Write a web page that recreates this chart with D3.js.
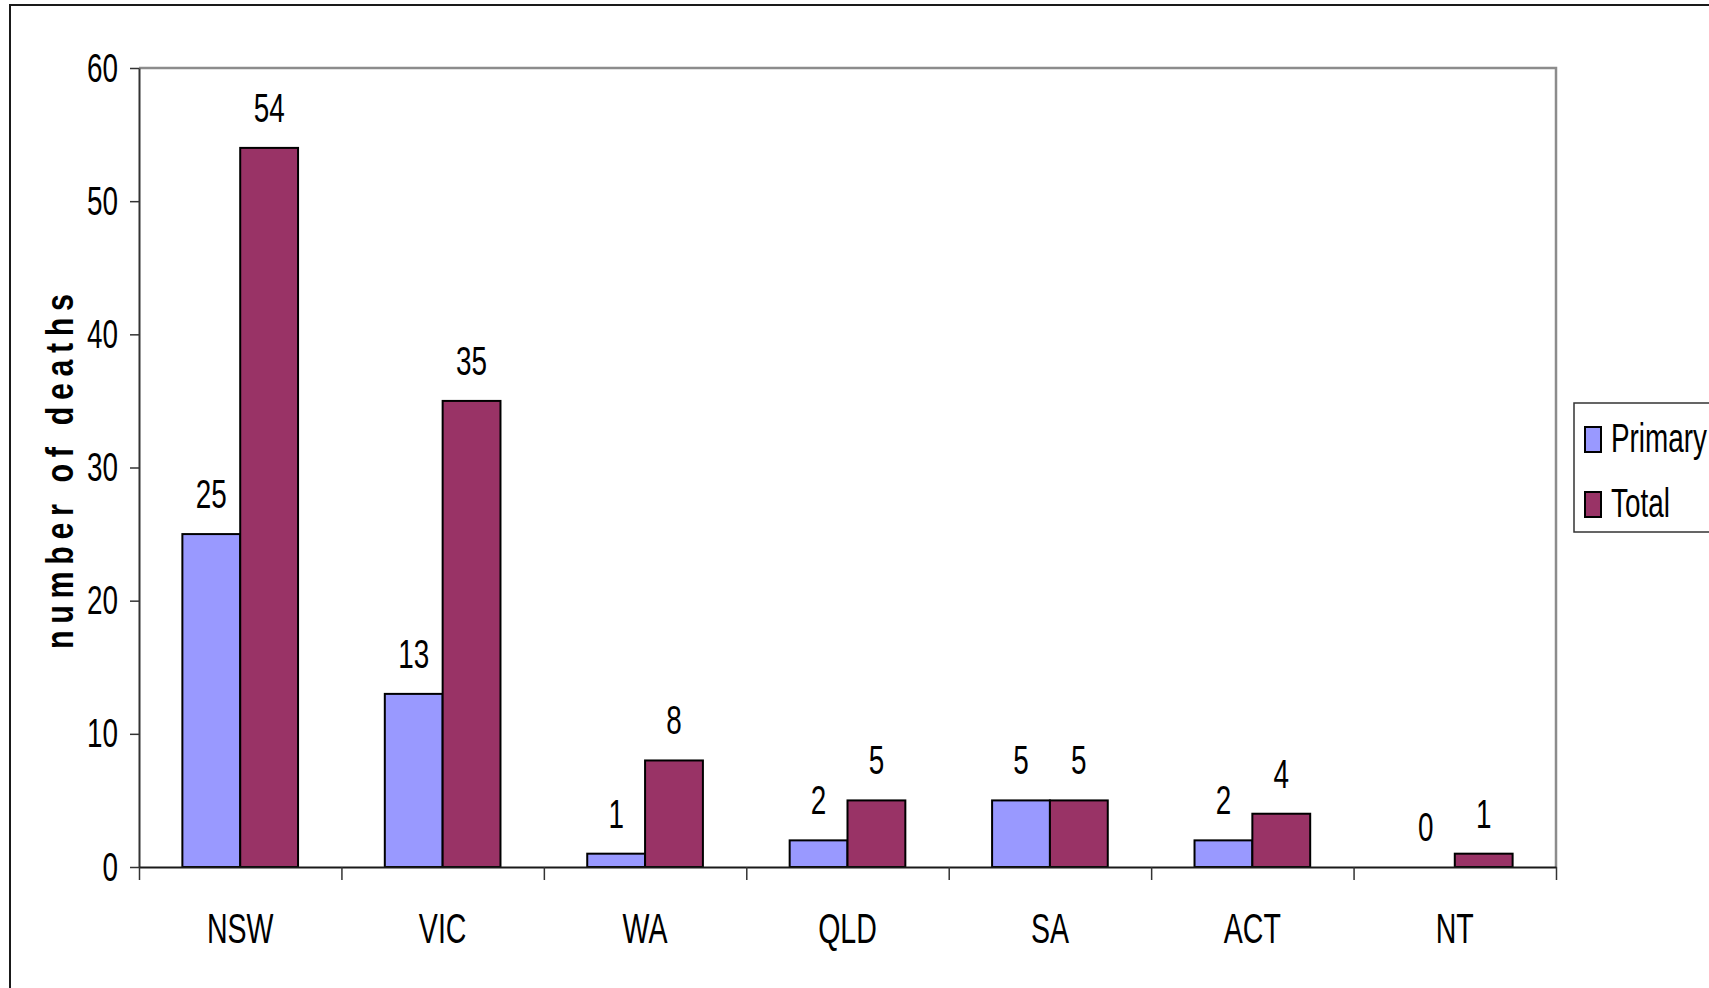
<!DOCTYPE html>
<html>
<head>
<meta charset="utf-8">
<script src="https://cdn.jsdelivr.net/npm/d3@7"></script>
<style>
  body { margin: 0; background: #fff; }
  svg { display: block; }
  text { font-family: "Liberation Sans", Arial, sans-serif; fill: #000; }
</style>
</head>
<body>
<script>
// data
const states = ["NSW", "VIC", "WA", "QLD", "SA", "ACT", "NT"]
const primary = [25, 13, 1, 2, 5, 2, 0]
const total = [54, 35, 8, 5, 5, 4, 1]
const seriesNames = ["Primary", "Total"]
const seriesColors = ["#9999FF", "#993366"]
const yTicks = [0, 10, 20, 30, 40, 50, 60]

const W = 1709, H = 988
const plot = {left: 139, right: 1556, top: 68, bottom: 867}
const sx = 0.68   // the original uses a narrow face, so squeeze sideways
const fontSize = 41

const svg = d3.select("body").append("svg")
  .attr("width", W)
  .attr("height", H)

// outer chart frame (right and bottom run off the page)
svg.append("rect")
  .attr("x", 10).attr("y", 5)
  .attr("width", 1720).attr("height", 1010)
  .attr("fill", "none")
  .attr("stroke", "#1a1a1a")
  .attr("stroke-width", 2)

const y = d3.scaleLinear()
  .domain([0, 60])
  .range([plot.bottom, plot.top])

const x = d3.scaleBand()
  .domain(states)
  .range([plot.left, plot.right])
  .padding(0)

const xInner = d3.scaleBand()
  .domain(seriesNames)
  .range([0, x.bandwidth()])
  .paddingInner(0)
  .paddingOuter(0.75)

// plot area border: gray on top and right
svg.append("path")
  .attr("d", `M${plot.left},${plot.top}H${plot.right}V${plot.bottom}`)
  .attr("fill", "none")
  .attr("stroke", "#8c8c8c")
  .attr("stroke-width", 2.5)

// bars
const rows = states.map((s, i) => ({state: s, values: [primary[i], total[i]]}))

const groups = svg.append("g").selectAll("g")
  .data(rows)
  .join("g")
  .attr("transform", d => `translate(${x(d.state)},0)`)

groups.selectAll("rect")
  .data(d => d.values.map((v, j) => ({name: seriesNames[j], value: v, color: seriesColors[j]})).filter(e => e.value > 0))
  .join("rect")
  .attr("x", d => xInner(d.name))
  .attr("y", d => y(d.value))
  .attr("width", xInner.bandwidth())
  .attr("height", d => y(0) - y(d.value))
  .attr("fill", d => d.color)
  .attr("stroke", "#000")
  .attr("stroke-width", 2)

// value labels
groups.selectAll("text")
  .data(d => d.values.map((v, j) => ({name: seriesNames[j], value: v})))
  .join("text")
  .attr("text-anchor", "middle")
  .attr("transform", d => `translate(${xInner(d.name) + xInner.bandwidth() / 2},${y(d.value) - 26}) scale(${sx},1)`)
  .style("font-size", fontSize + "px")
  .text(d => d.value)

// y axis
const yAxis = svg.append("g")
  .attr("transform", `translate(${plot.left},0)`)
  .call(d3.axisLeft(y).tickValues(yTicks).tickSize(9).tickSizeOuter(0))
yAxis.select(".domain").attr("stroke", "#333").attr("stroke-width", 2)
yAxis.selectAll(".tick line").attr("stroke", "#333").attr("stroke-width", 1.5)
yAxis.selectAll(".tick text")
  .attr("x", -21 / sx)
  .attr("transform", `scale(${sx},1)`)
  .style("font-size", fontSize + "px")
  .attr("fill", "#000")

// x axis: ticks at category edges, labels at centres
const edges = d3.scaleLinear().domain([0, states.length]).range([plot.left, plot.right])
const xEdge = svg.append("g")
  .attr("transform", `translate(0,${plot.bottom})`)
  .call(d3.axisBottom(edges).tickValues(d3.range(states.length + 1)).tickSize(13).tickSizeOuter(0).tickFormat(""))
xEdge.select(".domain").attr("stroke", "#1a1a1a").attr("stroke-width", 2)
xEdge.selectAll(".tick line").attr("stroke", "#333").attr("stroke-width", 1.5)

const xLab = svg.append("g")
  .attr("transform", `translate(0,${plot.bottom})`)
  .call(d3.axisBottom(x).tickSize(0))
xLab.select(".domain").remove()
xLab.selectAll(".tick text")
  .attr("y", 0).attr("dy", 0)
  .attr("transform", `translate(0,76) scale(${sx},1)`)
  .style("font-size", (fontSize + 1) + "px")
  .attr("fill", "#000")

// y axis title
const titleSx = 0.8
svg.append("text")
  .attr("transform", `translate(73,649) rotate(-90) scale(${titleSx},1)`)
  .attr("text-anchor", "start")
  .attr("textLength", 355 / titleSx)
  .attr("lengthAdjust", "spacing")
  .style("font-size", "38px")
  .style("font-weight", "bold")
  .text("number of deaths")

// legend
const legend = svg.append("g")
legend.append("rect")
  .attr("x", 1574).attr("y", 403)
  .attr("width", 200).attr("height", 129)
  .attr("fill", "#fff")
  .attr("stroke", "#333")
  .attr("stroke-width", 1.5)

const legendY = d3.scalePoint().domain(seriesNames).range([452, 517])

const items = legend.selectAll("g.item")
  .data(seriesNames)
  .join("g")
  .attr("class", "item")
  .attr("transform", d => `translate(1585,${legendY(d)})`)

items.append("rect")
  .attr("x", 0).attr("y", -25)
  .attr("width", 16).attr("height", 25)
  .attr("fill", (d, i) => seriesColors[i])
  .attr("stroke", "#000")
  .attr("stroke-width", 2)

items.append("text")
  .attr("transform", `translate(26,0) scale(${sx},1)`)
  .style("font-size", fontSize + "px")
  .text(d => d)
</script>
</body>
</html>
